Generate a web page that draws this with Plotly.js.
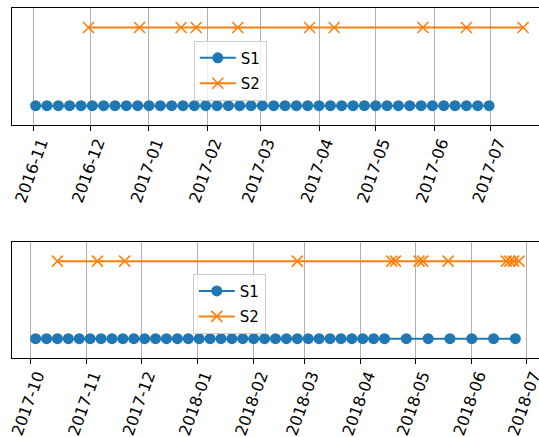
<!DOCTYPE html>
<html>
<head>
<meta charset="utf-8">
<script src="https://cdn.plot.ly/plotly-3.0.1.min.js"></script>
<style>
  html, body { margin: 0; padding: 0; background: #fff; }
  #chart { width: 539px; height: 437px; }
</style>
</head>
<body>
<div id="chart"></div>
<script>
// верхний график: даты серий
const topS1Dates = [
  '2016-11-02', '2016-11-08', '2016-11-14', '2016-11-20', '2016-11-26',
  '2016-12-02', '2016-12-08', '2016-12-14', '2016-12-20', '2016-12-26',
  '2017-01-01', '2017-01-07', '2017-01-13', '2017-01-19', '2017-01-25', '2017-01-31',
  '2017-02-06', '2017-02-12', '2017-02-18', '2017-02-24',
  '2017-03-02', '2017-03-08', '2017-03-14', '2017-03-20', '2017-03-26',
  '2017-04-01', '2017-04-07', '2017-04-13', '2017-04-19', '2017-04-25',
  '2017-05-01', '2017-05-07', '2017-05-13', '2017-05-19', '2017-05-25', '2017-05-31',
  '2017-06-06', '2017-06-12', '2017-06-18', '2017-06-24', '2017-06-30',
];
const topS1Values = [
  1, 1, 1, 1, 1, 1, 1, 1, 1, 1, 1, 1, 1, 1, 1, 1, 1, 1, 1, 1, 1,
  1, 1, 1, 1, 1, 1, 1, 1, 1, 1, 1, 1, 1, 1, 1, 1, 1, 1, 1, 1,
];
const topS2Dates = [
  '2016-11-30', '2016-12-27', '2017-01-18', '2017-01-26', '2017-02-17',
  '2017-03-27', '2017-04-09', '2017-05-26', '2017-06-18', '2017-07-18',
];
const topS2Values = [2, 2, 2, 2, 2, 2, 2, 2, 2, 2];

// нижний график
const bottomS1Dates = [
  '2017-10-04', '2017-10-10', '2017-10-16', '2017-10-22', '2017-10-28',
  '2017-11-03', '2017-11-09', '2017-11-15', '2017-11-21', '2017-11-27',
  '2017-12-03', '2017-12-09', '2017-12-15', '2017-12-21', '2017-12-27',
  '2018-01-02', '2018-01-08', '2018-01-14', '2018-01-20', '2018-01-26',
  '2018-02-01', '2018-02-07', '2018-02-13', '2018-02-19', '2018-02-25',
  '2018-03-03', '2018-03-09', '2018-03-15', '2018-03-21', '2018-03-27',
  '2018-04-02', '2018-04-08', '2018-04-14',
  '2018-04-26', '2018-05-08', '2018-05-20', '2018-06-01', '2018-06-13', '2018-06-25',
];
const bottomS1Values = [
  1, 1, 1, 1, 1, 1, 1, 1, 1, 1, 1, 1, 1, 1, 1, 1, 1, 1, 1, 1,
  1, 1, 1, 1, 1, 1, 1, 1, 1, 1, 1, 1, 1, 1, 1, 1, 1, 1, 1,
];
const bottomS2Dates = [
  '2017-10-16', '2017-11-07', '2017-11-22', '2018-02-25',
  '2018-04-18', '2018-04-20', '2018-05-03', '2018-05-05', '2018-05-19',
  '2018-06-20', '2018-06-22', '2018-06-24', '2018-06-27',
];
const bottomS2Values = [2, 2, 2, 2, 2, 2, 2, 2, 2, 2, 2, 2, 2];

const seriesNames = ['S1', 'S2'];

const BLUE = '#1f77b4';
const ORANGE = '#ff7f0e';
const FONT = 'DejaVu Sans, sans-serif';

function s1Trace(x, y, xaxis, yaxis, legend) {
  return {
    x, y, xaxis, yaxis, legend,
    name: seriesNames[0],
    legendgroup: 's1',
    type: 'scatter',
    mode: 'lines+markers',
    line: { color: BLUE, width: 2 },
    marker: { color: BLUE, size: 11, symbol: 'circle' },
  };
}

function s2Trace(x, y, xaxis, yaxis, legend) {
  return {
    x, y, xaxis, yaxis, legend,
    name: seriesNames[1],
    legendgroup: 's2',
    type: 'scatter',
    mode: 'lines+markers',
    line: { color: ORANGE, width: 2 },
    marker: {
      color: ORANGE,
      size: 11,
      symbol: 'x-thin',
      line: { color: ORANGE, width: 1.6 },
    },
  };
}

const data = [
  s1Trace(topS1Dates, topS1Values, 'x', 'y', 'legend'),
  s2Trace(topS2Dates, topS2Values, 'x', 'y', 'legend'),
  s1Trace(bottomS1Dates, bottomS1Values, 'x2', 'y2', 'legend2'),
  s2Trace(bottomS2Dates, bottomS2Values, 'x2', 'y2', 'legend2'),
];

function xAxis(range, tick0, anchor) {
  return {
    type: 'date',
    anchor,
    domain: [0, 1],
    range,
    tick0,
    dtick: 'M1',
    tickformat: '%Y-%m',
    tickangle: -70,
    ticklabelshift: 7,
    ticklabelstandoff: -4,
    ticklabeloverflow: 'allow',
    ticks: 'outside',
    ticklen: 5,
    tickwidth: 1,
    tickcolor: '#000',
    tickfont: { family: FONT, size: 16, color: '#000' },
    showgrid: true,
    gridcolor: '#b0b0b0',
    gridwidth: 1,
    zeroline: false,
    showline: true,
    linecolor: '#000',
    linewidth: 1,
    mirror: true,
  };
}

function yAxis(domain, anchor) {
  return {
    anchor,
    domain,
    range: [0.75, 2.25],
    showticklabels: false,
    ticks: '',
    showgrid: false,
    zeroline: false,
    showline: true,
    linecolor: '#000',
    linewidth: 1,
  };
}

function legendBox(x, y) {
  return {
    x, y,
    xanchor: 'left',
    yanchor: 'top',
    bgcolor: 'rgba(255,255,255,0.8)',
    bordercolor: '#cccccc',
    borderwidth: 1,
    itemwidth: 36,
    tracegroupgap: 3,
    font: { family: FONT, size: 15, color: '#000' },
  };
}

const layout = {
  width: 539,
  height: 437,
  margin: { l: 12, r: 0, t: 8, b: 79, pad: 0 },
  paper_bgcolor: '#fff',
  plot_bgcolor: '#fff',
  font: { family: FONT, color: '#000' },
  xaxis: xAxis(['2016-10-20 12:00', '2017-07-26 10:00'], '2016-11-01', 'y'),
  yaxis: yAxis([0.665, 1], 'x'),
  xaxis2: xAxis(['2017-09-21', '2018-07-08'], '2017-10-01', 'y2'),
  yaxis2: yAxis([0, 0.332], 'x2'),
  legend: legendBox(0.345, 0.907),
  legend2: legendBox(0.343, 0.241),
};

Plotly.newPlot('chart', data, layout, { staticPlot: true, displayModeBar: false });
</script>
</body>
</html>
